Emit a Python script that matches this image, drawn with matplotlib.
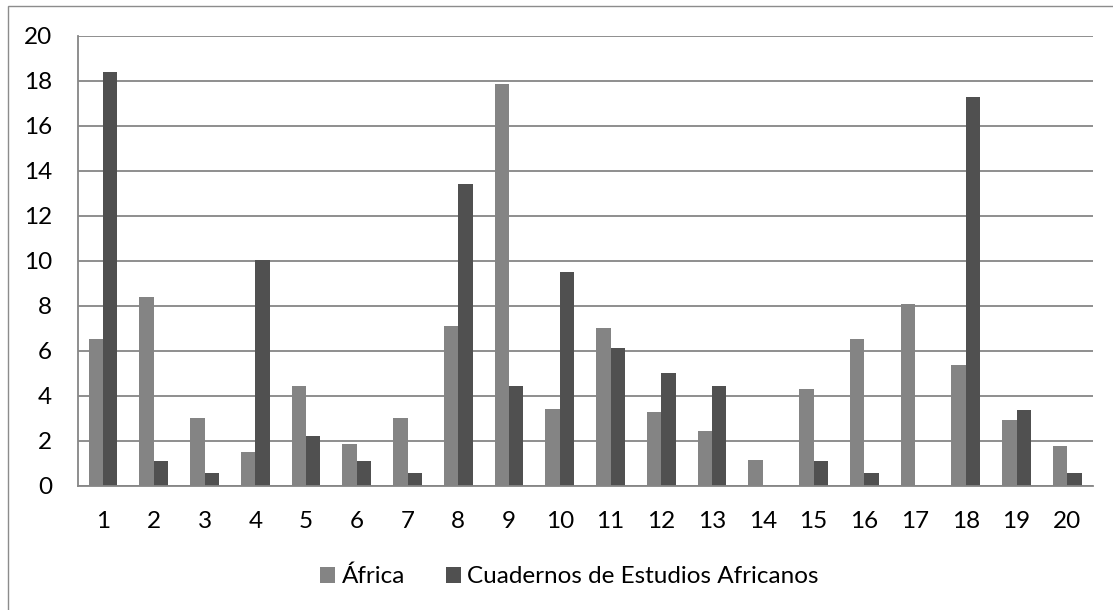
import matplotlib
matplotlib.use("Agg")
import matplotlib.pyplot as plt
from matplotlib.patches import Rectangle, Patch
import numpy as np

categories = [str(i) for i in range(1, 21)]
africa = [6.52, 8.39, 3.02, 1.51, 4.43, 1.85, 3.02, 7.11, 17.84, 3.39,
          6.99, 3.26, 2.43, 1.14, 4.31, 6.52, 8.06, 5.35, 2.92, 1.75]
cea = [18.4, 1.11, 0.55, 10.04, 2.22, 1.11, 0.55, 13.39, 4.44, 9.48,
       6.13, 5.02, 4.44, 0.0, 1.11, 0.55, 0.0, 17.29, 3.36, 0.55]
series_names = ["África", "Cuadernos de Estudios Africanos"]
yticks = [0, 2, 4, 6, 8, 10, 12, 14, 16, 18, 20]

plt.rcParams['font.family'] = ['Lato', 'DejaVu Sans']

W, H = 1113, 610
fig = plt.figure(figsize=(W / 100, H / 100), dpi=100)
fig.patch.set_facecolor('white')

# outer chart border (only left/top visible)
fig.patches.append(Rectangle((8 / W, -0.1), 1.2, 1 - 6 / H + 0.1,
                             transform=fig.transFigure, fill=False,
                             edgecolor='#8c8c8c', linewidth=1.0, zorder=0))

ax = fig.add_axes([77.7 / W, 1 - 485.7 / H, (1092.7 - 77.7) / W, (485.7 - 35.7) / H])

x = np.arange(len(categories))
bw = 0.284
c1, c2 = '#848484', '#505050'
ax.bar(x - bw / 2, africa, width=bw, color=c1, zorder=3)
ax.bar(x + bw / 2, cea, width=bw, color=c2, zorder=3)

ax.set_xlim(-0.5, len(categories) - 0.5)
ax.set_ylim(0, 20)
ax.set_yticks(yticks)
ax.set_yticklabels([str(v) for v in yticks])
ax.set_xticks(x)
ax.set_xticklabels(categories)
ax.tick_params(axis='both', length=0, labelsize=17.5, colors='black')
ax.tick_params(axis='y', pad=18.5)
ax.tick_params(axis='x', pad=18.5)

ax.yaxis.grid(True, color='#868686', linewidth=1.3, zorder=1)
ax.set_axisbelow(True)
for s in ['top', 'right']:
    ax.spines[s].set_visible(False)
for s in ['left', 'bottom']:
    ax.spines[s].set_color('#868686')
    ax.spines[s].set_linewidth(1.3)
    ax.spines[s].set_zorder(4)

handles = [Patch(facecolor=c1), Patch(facecolor=c2)]
fig.legend(handles, series_names, loc='center', ncol=2,
           bbox_to_anchor=(569.5 / W, 1 - 576.5 / H), frameon=False,
           fontsize=17.5, handlelength=0.62, handleheight=0.62,
           handletextpad=0.25, columnspacing=1.69)

fig.savefig('out.png', dpi=100, facecolor='white')
